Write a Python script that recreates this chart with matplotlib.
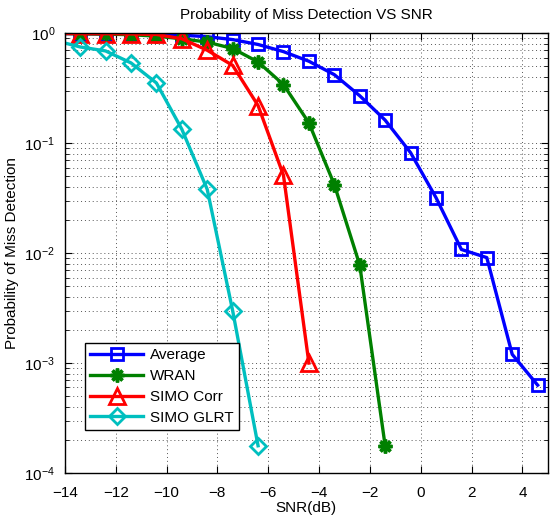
import numpy as np
import matplotlib
matplotlib.use('Agg')
import matplotlib.pyplot as plt
from matplotlib.ticker import LogLocator, NullFormatter

plt.rcParams['font.family'] = ['Liberation Sans', 'DejaVu Sans']
plt.rcParams['mathtext.fontset'] = 'custom'
plt.rcParams['mathtext.rm'] = 'Liberation Sans'

# SNR 값 (dB)
snr = [-14.4, -13.4, -12.4, -11.4, -10.4, -9.4, -8.4, -7.4, -6.4, -5.4,
       -4.4, -3.4, -2.4, -1.4, -0.4, 0.6, 1.6, 2.6, 3.6, 4.6]

# 미검출 확률
p_average = [0.995, 0.99, 0.985, 0.98, 0.975, 0.96, 0.93, 0.875, 0.79, 0.68,
             0.556, 0.42, 0.27, 0.162, 0.082, 0.032, 0.0108, 0.0091, 0.0012, 0.00063]
p_wran = [0.995, 0.99, 0.98, 0.97, 0.94, 0.89, 0.83, 0.726, 0.548, 0.341,
          0.153, 0.042, 0.0078, 0.000177]
p_corr = [0.995, 0.99, 0.99, 0.985, 0.975, 0.89, 0.70, 0.51, 0.22, 0.051, 0.001]
p_glrt = [0.86, 0.75, 0.69, 0.537, 0.353, 0.134, 0.038, 0.0030, 0.000177]

labels = ['Average', 'WRAN', 'SIMO Corr', 'SIMO GLRT']

fig = plt.figure(figsize=(5.5, 5.19), dpi=100)
ax = fig.add_axes([0.118, 0.0886, 0.878, 0.8474])

lw = 2.4
ax.semilogy(snr[:len(p_average)], p_average, color='#0000ff', lw=lw, marker='s',
            ms=8.5, mfc='none', mew=2, label=labels[0])
ax.semilogy(snr[:len(p_wran)], p_wran, color='#008000', lw=lw, marker=(8, 2, 0),
            ms=10, mew=2.5, label=labels[1])
ax.semilogy(snr[:len(p_corr)], p_corr, color='#ff0000', lw=lw, marker='^',
            ms=12, mfc='none', mew=2, label=labels[2])
ax.semilogy(snr[:len(p_glrt)], p_glrt, color='#00bfbf', lw=lw, marker='D',
            ms=8.5, mfc='none', mew=2, label=labels[3])

ax.set_xlim(-14, 5)
ax.set_ylim(1e-4, 1)
ax.set_xticks(np.arange(-14, 5, 2))
ax.set_xticklabels([f'\u2212{-t}' if t < 0 else str(t) for t in range(-14, 5, 2)])
ax.yaxis.set_major_locator(LogLocator(base=10, numticks=10))
ax.yaxis.set_minor_locator(LogLocator(base=10, subs=np.arange(2, 10), numticks=20))
ax.yaxis.set_minor_formatter(NullFormatter())

gridstyle = dict(ls=(0, (1, 3)), color='#555555', lw=0.7)
ax.grid(True, which='major', **gridstyle)
ax.grid(True, which='minor', axis='y', **gridstyle)
ax.tick_params(which='both', direction='in', top=True, right=True, labelsize=11)
ax.tick_params(which='major', length=5)
ax.tick_params(which='minor', length=3)
ax.tick_params(axis='x', pad=9)
ax.tick_params(axis='y', pad=7)
for s in ax.spines.values():
    s.set_linewidth(1.0)

ax.set_title('Probability of Miss Detection VS SNR', fontsize=11, pad=10)
ax.set_xlabel('SNR(dB)', fontsize=11, labelpad=1)
ax.set_ylabel('Probability of Miss Detection', fontsize=11, labelpad=4)

leg = ax.legend(loc='lower left', bbox_to_anchor=(0.025, 0.08), fontsize=11,
                fancybox=False, edgecolor='black', framealpha=1,
                handlelength=3.5, borderpad=0.35, labelspacing=0.45, handletextpad=0.4)
leg.get_frame().set_linewidth(1.0)

fig.savefig('out.png', dpi=100)
